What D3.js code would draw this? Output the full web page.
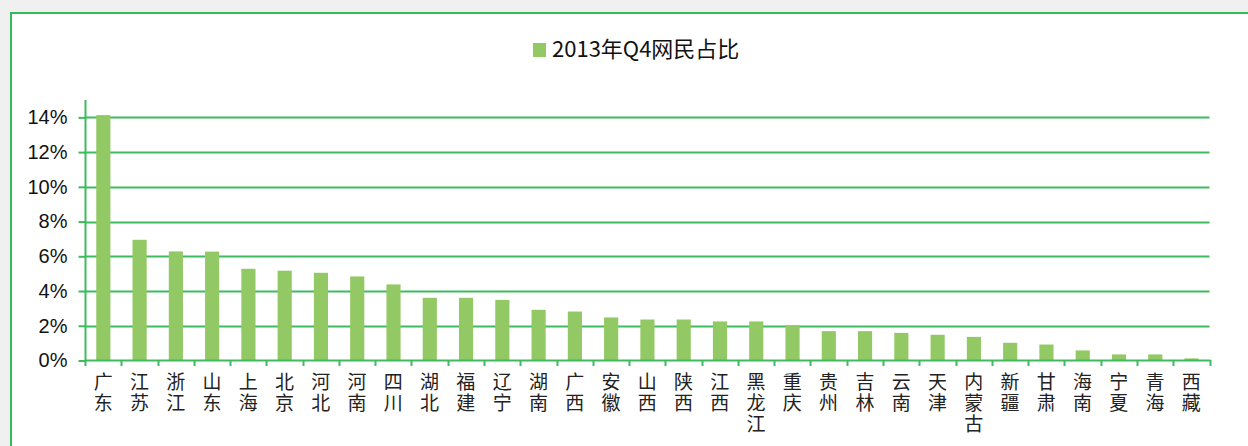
<!DOCTYPE html>
<html><head><meta charset="utf-8">
<script src="https://cdn.jsdelivr.net/npm/d3@7"></script>
<style>
html,body{margin:0;padding:0;background:#f0f0f0;}
svg{display:block;}
</style></head>
<body>
<svg id="chart" width="1248" height="446"></svg>
<script>
const categories = ["广东","江苏","浙江","山东","上海","北京","河北","河南","四川","湖北","福建","辽宁","湖南","广西","安徽","山西","陕西","江西","黑龙江","重庆","贵州","吉林","云南","天津","内蒙古","新疆","甘肃","海南","宁夏","青海","西藏"];
const values = [14.13,6.95,6.28,6.27,5.28,5.17,5.05,4.84,4.38,3.61,3.61,3.49,2.92,2.82,2.48,2.36,2.36,2.25,2.25,2.03,1.69,1.69,1.59,1.48,1.36,1.02,0.92,0.58,0.35,0.35,0.12];
const yTicks = [0,2,4,6,8,10,12,14];
const seriesName = "2013年Q4网民占比";

const svg = d3.select("#chart");
const W = 1248, H = 446;
const gridColor = "#3dbb5e", barColor = "#92c964";

// panel
svg.append("rect").attr("x",11).attr("y",13).attr("width",W).attr("height",H)
  .attr("fill","#ffffff").attr("stroke","#36b957").attr("stroke-width",2);

const x = d3.scaleBand().domain(categories).range([85,1209.5]).paddingInner(0).paddingOuter(0);
const y = d3.scaleLinear().domain([0,15]).range([360.5,100]);

// gridlines
svg.append("g").selectAll("line").data(yTicks.filter(t=>t>0)).join("line")
  .attr("x1",85).attr("x2",1209.5)
  .attr("y1",d=>Math.round(y(d))+0.5).attr("y2",d=>Math.round(y(d))+0.5)
  .attr("stroke",gridColor).attr("stroke-width",2);

// bars
const bw = x.bandwidth();
svg.append("g").selectAll("rect").data(values).join("rect")
  .attr("x",(d,i)=>x(categories[i]) + bw*0.31)
  .attr("width",bw*0.39)
  .attr("y",d=>y(d))
  .attr("height",d=>y(0)-y(d))
  .attr("fill",barColor);

// y axis
const yAxis = d3.axisLeft(y).tickValues(yTicks).tickSize(7).tickFormat(d=>d+"%");
const gy = svg.append("g").attr("transform","translate(85.5,0)").call(yAxis);
gy.select(".domain").attr("d","M0,100V360.5").attr("stroke",gridColor).attr("stroke-width",2);
gy.selectAll(".tick line").attr("stroke",gridColor).attr("stroke-width",2);
gy.selectAll(".tick text").attr("x",-18).attr("fill","#111")
  .style("font-family","'Liberation Sans',Arial,sans-serif").style("font-size","20px");

// x axis line and ticks
svg.append("line").attr("x1",85).attr("x2",1210.5).attr("y1",360.5).attr("y2",360.5)
  .attr("stroke",gridColor).attr("stroke-width",2);
const bounds = categories.map(c=>x(c)).concat([x.range()[1]]);
svg.append("g").selectAll("line").data(bounds).join("line")
  .attr("x1",d=>Math.round(d)+0.5).attr("x2",d=>Math.round(d)+0.5)
  .attr("y1",360).attr("y2",366)
  .attr("stroke",gridColor).attr("stroke-width",2);

// x labels (stacked characters)
const lab = svg.append("g").selectAll("text").data(categories).join("text")
  .attr("text-anchor","middle")
  .attr("fill","#222")
  .style("font-family","'Noto Sans CJK SC',sans-serif").style("font-size","19px");
lab.each(function(c){
  const t = d3.select(this);
  const cx = x(c) + bw/2;
  Array.from(c).forEach((ch,k)=>{
    t.append("tspan").attr("x",cx).attr("y",389 + k*21).text(ch);
  });
});

// legend
svg.append("rect").attr("x",533).attr("y",43).attr("width",13).attr("height",14).attr("fill",barColor);
svg.append("text").attr("x",552).attr("y",57).text(seriesName)
  .attr("fill","#111")
  .style("font-family","'Noto Sans CJK SC',sans-serif").style("font-size","22px");
</script>
</body></html>
